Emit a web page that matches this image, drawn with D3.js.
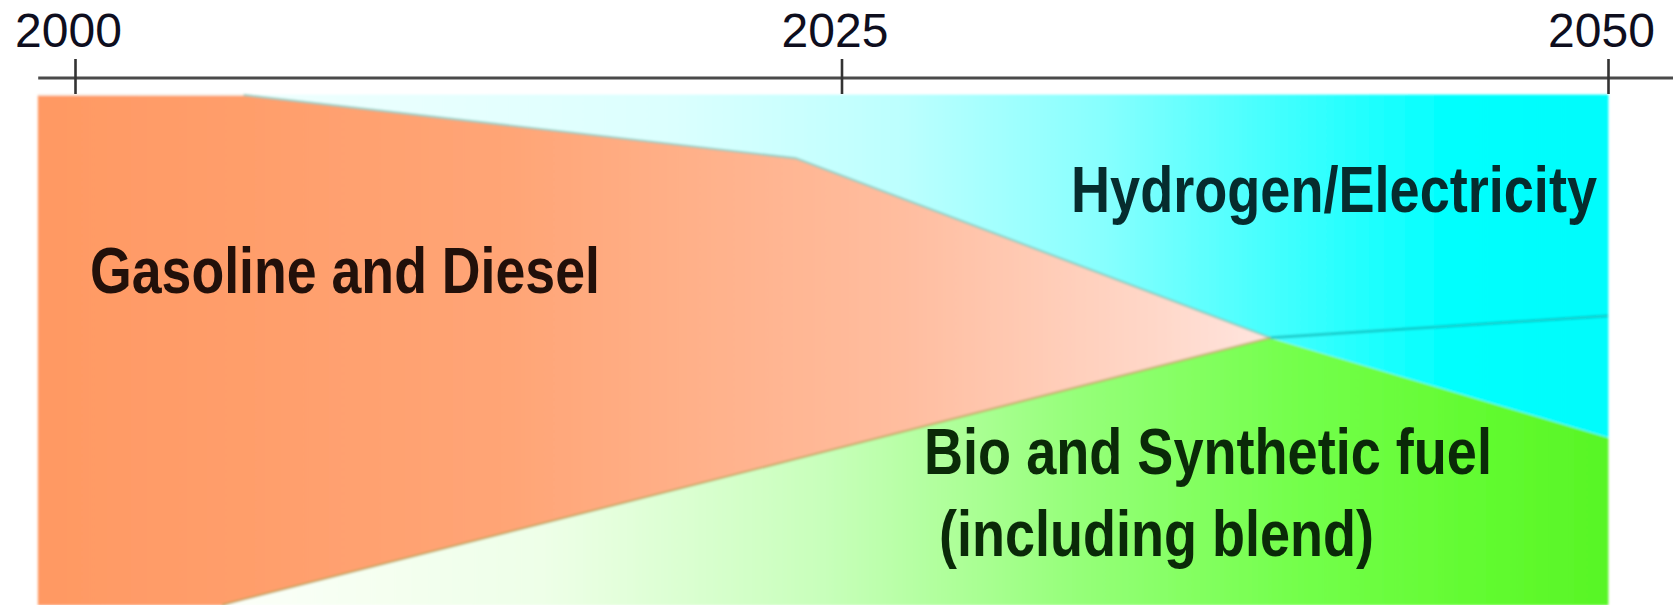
<!DOCTYPE html>
<html>
<head>
<meta charset="utf-8">
<script src="https://cdn.jsdelivr.net/npm/d3@7"></script>
<style>
  html, body { margin: 0; padding: 0; background: #ffffff; }
  svg { display: block; }
</style>
</head>
<body>
<svg id="chart" width="1673" height="605"></svg>
<script>
// Transport fuel mix outlook, share of energy use (%), stacked from the bottom
const years    = [1998.8, 2004.8, 2005.5, 2023.5, 2039, 2050];
const bio      = [0, 0, 1.1, 28.6, 52.4, 32.9];
const gasoline = [100, 100, 98.9, 59.0, 0, 0];
const hydrogen = [0, 0, 0, 12.4, 47.6, 67.1];

// Faint divider running through the hydrogen/electricity band
const dividerYears = [2039, 2050];
const dividerShare = [52.4, 56.7];

const tickYears = [2000, 2025, 2050];
const seriesKeys = ["bio", "gasoline", "hydrogen"];
const seriesLabels = {
  gasoline: ["Gasoline and Diesel"],
  hydrogen: ["Hydrogen/Electricity"],
  bio: ["Bio and Synthetic fuel", " (including blend)"]
};

const rows = years.map((yr, i) => ({
  year: yr, bio: bio[i], gasoline: gasoline[i], hydrogen: hydrogen[i]
}));

const svg = d3.select("#chart");
const x = d3.scaleLinear().domain([2000, 2050]).range([75, 1608]);
const y = d3.scaleLinear().domain([0, 100]).range([605, 95]);

const defs = svg.append("defs");

function gradient(id, stops) {
  const g = defs.append("linearGradient")
    .attr("id", id)
    .attr("gradientUnits", "userSpaceOnUse")
    .attr("x1", x(years[0])).attr("x2", x(years[years.length - 1]))
    .attr("y1", 0).attr("y2", 0);
  stops.forEach(([o, c]) => g.append("stop").attr("offset", o).attr("stop-color", c));
}

gradient("g-gasoline", [
  [0, "#ff9963"], [0.3, "#ffa576"], [0.55, "#ffbd9f"], [0.72, "#ffd9cb"], [0.8, "#ffe8e4"], [1, "#fff0ee"]
]);
gradient("g-hydrogen", [
  [0, "#f4ffff"], [0.14, "#effffe"], [0.4, "#dcfffe"], [0.55, "#bcfffe"],
  [0.68, "#86fffe"], [0.8, "#3cfffe"], [0.9, "#00fffe"], [1, "#00fcfc"]
]);
gradient("g-bio", [
  [0, "#ffffff"], [0.13, "#fbfff8"], [0.32, "#eeffe8"], [0.5, "#c8ffbb"],
  [0.66, "#96ff7a"], [0.8, "#74ff4c"], [0.92, "#62fb30"], [1, "#58f526"]
]);

defs.append("filter").attr("id", "soft")
  .attr("x", "-2%").attr("y", "-2%").attr("width", "104%").attr("height", "104%")
  .append("feGaussianBlur").attr("stdDeviation", 1.1);

const stack = d3.stack().keys(seriesKeys);
const layers = stack(rows);

const area = d3.area()
  .x(d => x(d.data.year))
  .y0(d => y(d[0]))
  .y1(d => y(d[1]))
  .curve(d3.curveLinear);

const plot = svg.append("g").attr("filter", "url(#soft)");

plot.selectAll("path.layer")
  .data(layers)
  .join("path")
  .attr("class", "layer")
  .attr("d", area)
  .attr("fill", d => `url(#g-${d.key})`)
  .attr("stroke", d => `url(#g-${d.key})`)
  .attr("stroke-width", 0.8);

// Soft seams where the bands meet
const line = d3.line().x(d => x(d[0])).y(d => y(d[1]));
const seamTop = years.map((yr, i) => [yr, bio[i] + gasoline[i]])
  .filter(d => d[0] >= 2005.5 && d[0] <= 2039);
const seamBottom = years.map((yr, i) => [yr, bio[i]])
  .filter(d => d[0] >= 2004.8 && d[0] <= 2039);

plot.append("path").attr("d", line(seamTop))
  .attr("fill", "none").attr("stroke", "#7fbfb0").attr("stroke-opacity", 0.65).attr("stroke-width", 2.4);
plot.append("path").attr("d", line(seamBottom))
  .attr("fill", "none").attr("stroke", "#b0a050").attr("stroke-opacity", 0.6).attr("stroke-width", 2.4);
plot.append("path")
  .attr("d", line(dividerYears.map((yr, i) => [yr, dividerShare[i]])))
  .attr("fill", "none").attr("stroke", "#10b0b0").attr("stroke-opacity", 0.65).attr("stroke-width", 2.8);

// Year axis across the top
const axis = d3.axisTop(x).tickValues(tickYears).tickFormat(d3.format("d")).tickSizeOuter(0).tickSize(18);
const ax = svg.append("g").attr("transform", "translate(0,78)").call(axis);
ax.select(".domain")
  .attr("d", `M${x(years[0])},0H1673`)
  .attr("stroke", "#4a4a4a").attr("stroke-width", 3.2);
ax.selectAll(".tick line")
  .attr("y1", -19).attr("y2", 16)
  .attr("stroke", "#333").attr("stroke-width", 2.6);
ax.selectAll(".tick text")
  .attr("y", -31).attr("dy", 0).attr("dx", -7)
  .attr("fill", "#0e0e1e")
  .style("font-family", "'Liberation Sans', Arial, sans-serif")
  .style("font-size", "48px");

// Band labels, set in a horizontally condensed bold face
const labelSpec = [
  { key: "gasoline", x0: 90, baselines: [293], widths: [510], color: "#22100a" },
  { key: "hydrogen", x0: 1071, baselines: [212], widths: [526], color: "#062c2e" },
  { key: "bio", x0: 924, baselines: [474, 556], widths: [568, 450], color: "#0a2a08" }
];
const lbl = svg.append("g")
  .style("font-family", "'Liberation Sans', Arial, sans-serif")
  .style("font-weight", "bold")
  .style("font-size", "64px");
labelSpec.forEach(s => {
  seriesLabels[s.key].forEach((t, i) => {
    const g = lbl.append("g");
    const txt = g.append("text")
      .attr("x", 0)
      .attr("y", 0)
      .attr("fill", s.color)
      .style("white-space", "pre")
      .text(t);
    const natural = txt.node().getComputedTextLength();
    const sx = s.widths[i] / natural;
    g.attr("transform", `translate(${s.x0},${s.baselines[i]}) scale(${sx},1)`);
  });
});
</script>
</body>
</html>
